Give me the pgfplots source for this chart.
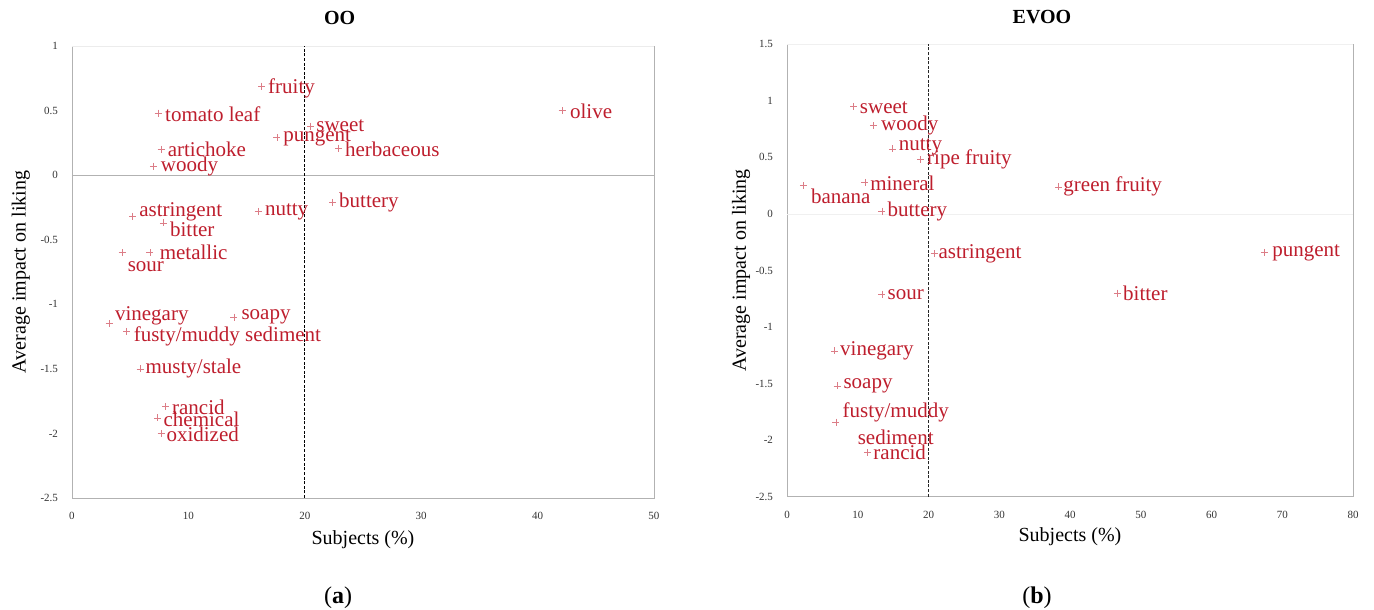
\documentclass[border=0pt]{standalone}
\usepackage{fontspec}
\setmainfont{Liberation Serif}
\usepackage{pgfplots}
\usepackage{pgfplotstable}
\pgfplotsset{compat=1.18}
\definecolor{lblred}{RGB}{190,30,45}
\definecolor{mkred}{RGB}{220,125,135}

\pgfplotstableread[col sep=comma]{
x,y,dx,sy,label
16.3,0.69,6.2,-2,fruity
7.4,0.48,6.8,-1,tomato leaf
20.5,0.38,5.5,0,sweet
17.6,0.29,6.2,0,pungent
22.9,0.21,6.2,-1,herbaceous
42.1,0.50,7.8,-1,olive
7.65,0.20,6.5,0,artichoke
7.0,0.07,7.2,0,woody
22.4,-0.21,6.2,0,buttery
5.2,-0.32,6.5,5,astringent
16.0,-0.28,6.5,-1,nutty
7.85,-0.37,6.5,-6,bitter
4.3,-0.60,5.5,-14.5,sour
6.7,-0.60,9.5,0,metallic
3.2,-1.15,5.5,8,vinegary
13.9,-1.10,7.5,0,soapy
4.7,-1.21,6.8,-5,fusty/muddy sediment
5.85,-1.50,5.2,0,musty/stale
8.05,-1.79,6.2,-1,rancid
7.35,-1.88,5.8,-1.5,chemical
7.65,-2.0,5.2,-1,oxidized
}\ootable

\pgfplotstableread[col sep=comma]{
x,y,dx,sy,label
9.4,0.95,6.2,-1,sweet
12.2,0.78,7.5,0,woody
14.9,0.575,6.2,2,nutty
18.9,0.48,6.2,0,ripe fruity
11.0,0.28,5.2,-1,mineral
2.3,0.25,7.5,-10.7,banana
13.4,0.025,5.5,0,buttery
38.4,0.24,4.5,0,green fruity
20.8,-0.35,4.2,0,astringent
67.5,-0.34,7.5,0,pungent
13.4,-0.71,5.5,0,sour
46.7,-0.70,5.5,0,bitter
6.7,-1.21,5.5,0,vinegary
7.1,-1.52,6.0,0,soapy
11.4,-2.11,5.5,0,rancid
}\evootable

\pgfplotsset{
  panel/.style={
    scale only axis,
    clip=false,
    axis line style={draw=none},
    tick style={draw=none},
    /pgf/number format/assume math mode=true,
    ticklabel style={font=\fontsize{11}{13}\selectfont, text=black!80},
    xticklabel style={yshift=-11pt},
    yticklabel style={xshift=-10.5pt},
    label style={font=\fontsize{20}{22}\selectfont},
    title style={font=\fontsize{20}{22}\selectfont\bfseries, anchor=center},
  },
  lbl/.style={
    only marks, mark=+, mark size=3.5pt,
    mark options={draw=mkred, line width=0.55pt},
    nodes near coords,
    point meta=explicit symbolic,
    visualization depends on={\thisrow{dx} \as \dx},
    visualization depends on={\thisrow{sy} \as \sy},
    nodes near coords style={anchor=west, inner sep=0pt,
      font=\fontsize{21}{24}\selectfont, text=lblred,
      xshift=\dx pt, yshift=\sy pt},
  },
}

\begin{document}
\begin{tikzpicture}
\path[use as bounding box] (0pt,0pt) rectangle (1374pt,610pt);

% ---------------- (a) OO ----------------
\begin{axis}[panel,
  at={(72pt,112pt)}, anchor=south west,
  width=582pt, height=452pt,
  xmin=0, xmax=50, ymin=-2.5, ymax=1,
  xtick={0,10,...,50},
  ytick={-2.5,-2,-1.5,-1,-0.5,0,0.5,1},
  title={OO},
  title style={at={(axis description cs:0.46,1.048)}},
  xlabel={Subjects (\%)},
  xlabel style={at={(axis description cs:0.5,-0.093)}, anchor=center},
  ylabel={Average impact on liking},
  ylabel style={at={(axis description cs:-0.088,0.5)}, anchor=center},
]
\draw[gray!60, line width=0.7pt] (rel axis cs:0,1) -- (rel axis cs:0,0) -- (rel axis cs:1,0) -- (rel axis cs:1,1);
\draw[gray!15, line width=0.7pt] (rel axis cs:0,1) -- (rel axis cs:1,1);
\addplot[gray!60, line width=0.7pt] coordinates {(0,0) (50,0)};
\addplot[black, line width=1.2pt, dash pattern=on 3pt off 1.6pt] coordinates {(20,-2.5) (20,1)};
\addplot[lbl] table[x=x, y=y, meta=label] {\ootable};
\end{axis}

% ---------------- (b) EVOO ----------------
\begin{axis}[panel,
  at={(787pt,113.3pt)}, anchor=south west,
  width=566pt, height=452.4pt,
  xmin=0, xmax=80, ymin=-2.5, ymax=1.5,
  xtick={0,10,...,80},
  ytick={-2.5,-2,-1.5,-1,-0.5,0,0.5,1,1.5},
  title={EVOO},
  title style={at={(axis description cs:0.4505,1.046)}},
  xlabel={Subjects (\%)},
  xlabel style={at={(axis description cs:0.5,-0.089)}, anchor=center},
  ylabel={Average impact on liking},
  ylabel style={at={(axis description cs:-0.081,0.5)}, anchor=center},
]
\draw[gray!60, line width=0.7pt] (rel axis cs:0,1) -- (rel axis cs:0,0) -- (rel axis cs:1,0) -- (rel axis cs:1,1);
\draw[gray!12, line width=0.7pt] (rel axis cs:0,1) -- (rel axis cs:1,1);
\addplot[gray!12, line width=0.7pt] coordinates {(0,0) (80,0)};
\addplot[black!85, line width=1.2pt, dash pattern=on 3pt off 1.6pt] coordinates {(20,-2.5) (20,1.5)};
\addplot[lbl] table[x=x, y=y, meta=label] {\evootable};
\addplot[only marks, mark=+, mark size=3.5pt,
  mark options={draw=mkred, line width=0.55pt},
  nodes near coords={fusty/muddy\\sediment},
  nodes near coords style={anchor=west, inner sep=0pt, align=center,
    font=\fontsize{21}{26.5}\selectfont, text=lblred,
    xshift=6.5pt, yshift=-1.5pt}]
  coordinates {(6.9,-1.84)};
\end{axis}

\node[font=\fontsize{24}{26}\selectfont] at (338pt,12pt) {(\textbf{a})};
\node[font=\fontsize{24}{26}\selectfont] at (1037pt,12pt) {(\textbf{b})};
\end{tikzpicture}
\end{document}
